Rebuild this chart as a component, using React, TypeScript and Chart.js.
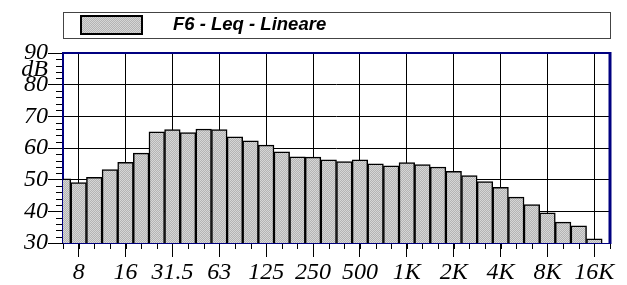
import React, { useEffect, useRef } from 'react';
import { Chart, registerables } from 'chart.js';
Chart.register(...registerables);

const bands = ['6.3', '8', '10', '12.5', '16', '20', '25', '31.5', '40', '50', '63', '80', '100', '125', '160', '200', '250', '315', '400', '500', '630', '800', '1K', '1.25K', '1.6K', '2K', '2.5K', '3.15K', '4K', '5K', '6.3K', '8K', '10K', '12.5K', '16K', '20K'];
const labeledBands = ['8', '16', '31.5', '63', '125', '250', '500', '1K', '2K', '4K', '8K', '16K'];
const leqValues: (number | null)[] = [50.3, 49.1, 50.7, 53.2, 55.5, 58.4, 65.1, 65.8, 64.9, 66.0, 65.8, 63.5, 62.3, 60.9, 58.8, 57.2, 57.1, 56.3, 55.7, 56.3, 55.0, 54.4, 55.4, 54.8, 54.0, 52.6, 51.3, 49.4, 47.6, 44.5, 42.1, 39.5, 36.6, 35.4, 31.3, null];
const seriesName = 'F6 - Leq - Lineare';
const yUnit = 'dB';
const yMin = 30;
const yMax = 90;
const yMajorStep = 10;
const yMinorStep = 2;

const NAVY = '#000080';
const serifCss = 'italic 24px "Liberation Serif"';
const legendFont = 'italic bold 18.5px "Liberation Sans"';

function makePattern(): CanvasPattern | string {
  const c = document.createElement('canvas');
  c.width = 2;
  c.height = 2;
  const g = c.getContext('2d');
  if (!g) return '#c4c4c4';
  g.fillStyle = '#b4b4b4';
  g.fillRect(0, 0, 2, 2);
  g.fillStyle = '#d6d6d6';
  g.fillRect(0, 0, 1, 1);
  g.fillRect(1, 1, 1, 1);
  const p = g.createPattern(c, 'repeat');
  return p || '#c4c4c4';
}

const isLabeled = (i: number) => labeledBands.includes(bands[i]);

function drawItalic(ctx: CanvasRenderingContext2D, text: string, x: number, y: number, align: CanvasTextAlign, baseline: CanvasTextBaseline) {
  ctx.save();
  ctx.font = serifCss;
  ctx.fillStyle = '#000';
  ctx.textAlign = align;
  ctx.textBaseline = baseline;
  ctx.fillText(text, x, y);
  ctx.restore();
}

export default function App() {
  const ref = useRef<HTMLCanvasElement | null>(null);
  const warmRef = useRef<HTMLCanvasElement | null>(null);

  useEffect(() => {
    document.body.style.margin = '0';
    const canvas = ref.current;
    if (!canvas) return;
    const w = warmRef.current ? warmRef.current.getContext('2d') : null;
    if (w) {
      w.font = serifCss;
      w.fillText('dB 0123456789.K', 0, 20);
      w.font = legendFont;
      w.fillText(seriesName, 0, 20);
    }
    const pattern = makePattern();

    const decor = {
      id: 'decor',
      beforeDatasetsDraw(ch: any) {
        const { ctx, chartArea: a } = ch;
        ctx.save();
        ctx.strokeStyle = NAVY;
        ctx.lineWidth = 2;
        ctx.beginPath();
        ctx.moveTo(a.left, a.top);
        ctx.lineTo(a.left, a.bottom);
        ctx.stroke();
        ctx.restore();
      },
      afterDatasetsDraw(ch: any) {
        const { ctx, chartArea: a } = ch;
        ctx.save();
        ctx.strokeStyle = NAVY;
        ctx.lineWidth = 2;
        ctx.beginPath();
        ctx.moveTo(a.left - 1, a.top);
        ctx.lineTo(a.right, a.top);
        ctx.stroke();
        ctx.lineWidth = 3;
        ctx.beginPath();
        ctx.moveTo(a.right, a.top - 1);
        ctx.lineTo(a.right, a.bottom + 1);
        ctx.stroke();
        ctx.lineWidth = 1;
        ctx.beginPath();
        ctx.moveTo(a.left, a.bottom + 0.5);
        ctx.lineTo(a.right, a.bottom + 0.5);
        ctx.stroke();
        ctx.restore();
      },
      afterDraw(ch: any) {
        const { ctx, chartArea: a } = ch;
        const xs = ch.scales.x;
        const ys = ch.scales.y;
        ctx.save();
        ctx.strokeStyle = '#000';
        ctx.lineWidth = 1;
        for (let i = 0; i < bands.length; i++) {
          const x = Math.round(xs.getPixelForTick(i)) + 0.5;
          ctx.beginPath();
          ctx.moveTo(x, a.bottom + 1);
          ctx.lineTo(x, a.bottom + 6);
          ctx.stroke();
        }
        for (let v = yMin; v <= yMax; v += yMinorStep) {
          if (v % yMajorStep === 0) continue;
          const y = Math.round(ys.getPixelForValue(v)) + 0.5;
          ctx.beginPath();
          ctx.moveTo(a.left - 7, y);
          ctx.lineTo(a.left - 1, y);
          ctx.stroke();
        }
        ctx.restore();

        xs.ticks.forEach((_t: any, i: number) => {
          if (!isLabeled(i)) return;
          drawItalic(ctx, bands[i], xs.getPixelForTick(i), a.bottom + 36, 'center', 'alphabetic');
        });
        ys.ticks.forEach((t: any) => {
          drawItalic(ctx, String(t.value), a.left - 15, ys.getPixelForValue(t.value), 'right', 'middle');
        });
        drawItalic(ctx, yUnit, a.left - 15, 76, 'right', 'alphabetic');

        ctx.save();
        const top = 12;
        const h = 26;
        ctx.fillStyle = '#fff';
        ctx.fillRect(a.left, top, a.right - a.left, h);
        ctx.strokeStyle = '#444';
        ctx.lineWidth = 1;
        ctx.strokeRect(Math.round(a.left) + 0.5, top + 0.5, Math.round(a.right - a.left), h);
        ctx.fillStyle = pattern as any;
        ctx.fillRect(80, 15, 63, 20);
        ctx.strokeStyle = '#000';
        ctx.lineWidth = 2;
        ctx.strokeRect(81, 16, 61, 18);
        ctx.fillStyle = '#000';
        ctx.font = legendFont;
        ctx.textAlign = 'left';
        ctx.textBaseline = 'alphabetic';
        ctx.fillText(seriesName, 173, 30);
        ctx.restore();
      },
    };

    const chart = new Chart(canvas, {
      type: 'bar',
      data: {
        labels: bands,
        datasets: [
          {
            label: seriesName,
            data: leqValues,
            backgroundColor: pattern as any,
            borderColor: '#000',
            borderWidth: 1.5,
            barPercentage: 1,
            categoryPercentage: 1,
            clip: 0,
          } as any,
        ],
      },
      options: {
        animation: false,
        responsive: false,
        devicePixelRatio: 1,
        layout: { padding: { top: 53, right: 17, bottom: 0, left: 0 } },
        plugins: { legend: { display: false }, tooltip: { enabled: false } },
        scales: {
          x: {
            type: 'category',
            offset: false,
            afterFit: (s: any) => {
              s.height = 42;
            },
            grid: {
              offset: false,
              color: (c: any) => (isLabeled(c.index) ? '#000' : 'rgba(0,0,0,0)'),
              tickColor: (c: any) => (isLabeled(c.index) ? '#000' : 'rgba(0,0,0,0)'),
              tickLength: 14,
              lineWidth: 1,
            },
            border: { display: false },
            ticks: { display: false, autoSkip: false, maxRotation: 0, minRotation: 0 },
          },
          y: {
            min: yMin,
            max: yMax,
            afterFit: (s: any) => {
              s.width = 63;
            },
            grid: { color: '#000', tickColor: '#000', tickLength: 15, lineWidth: 1 },
            border: { display: false },
            ticks: { display: false, stepSize: yMajorStep, autoSkip: false },
          },
        },
      },
      plugins: [decor],
    });

    return () => chart.destroy();
  }, []);

  return (
    <div style={{ position: 'relative', width: 627, height: 285, overflow: 'hidden' }}>
      <canvas ref={ref} width={627} height={285} style={{ display: 'block' }} />
      <canvas ref={warmRef} width={300} height={30} style={{ position: 'absolute', left: 0, top: 300, display: 'block' }} />
    </div>
  );
}
